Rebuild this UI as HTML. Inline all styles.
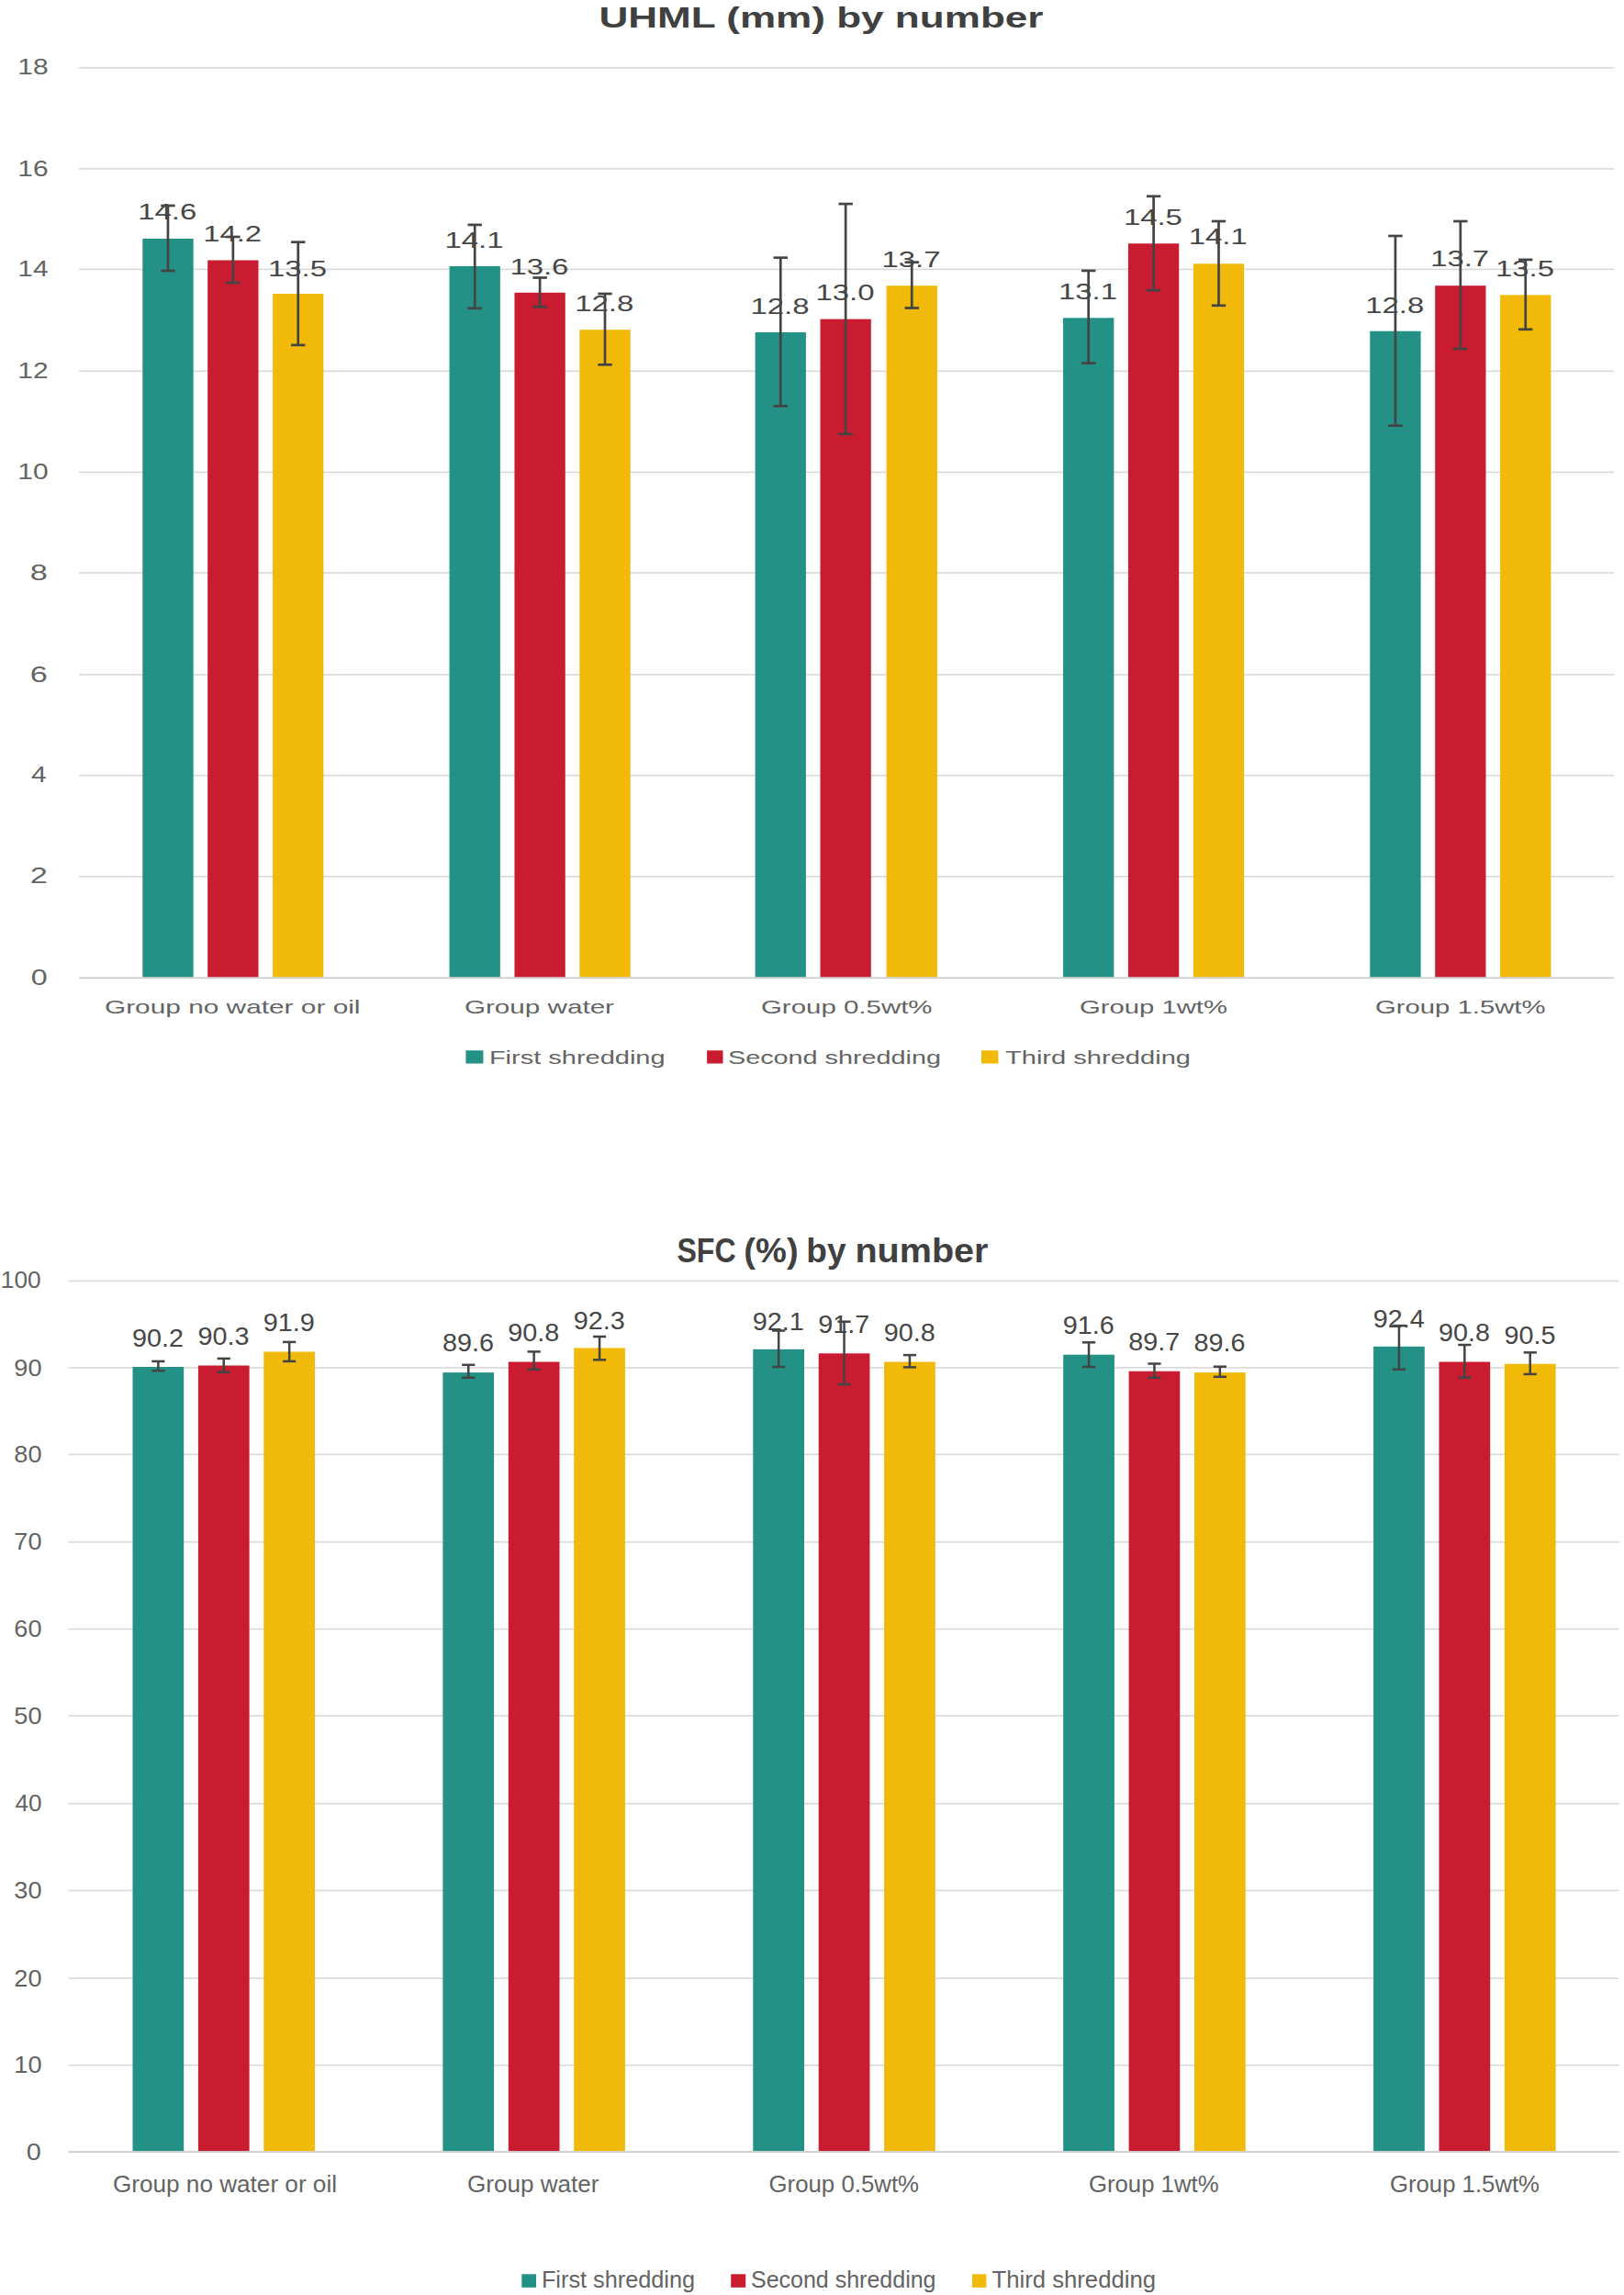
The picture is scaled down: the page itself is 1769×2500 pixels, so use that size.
<!DOCTYPE html>
<html lang="en"><head><meta charset="utf-8"><title>UHML and SFC by number</title>
<style>html,body{margin:0;padding:0;background:#fff}body{width:1769px;height:2500px;overflow:hidden}svg{display:block}text{font-family:"Liberation Sans",sans-serif;white-space:pre}</style></head><body>
<svg width="1769" height="2500" viewBox="0 0 1769 2500">
<rect width="1769" height="2500" fill="#ffffff"/>
<rect x="86.00" y="954.00" width="1672.00" height="1.60" fill="#d9d9d9"/>
<rect x="86.00" y="843.90" width="1672.00" height="1.60" fill="#d9d9d9"/>
<rect x="86.00" y="734.10" width="1672.00" height="1.60" fill="#d9d9d9"/>
<rect x="86.00" y="623.20" width="1672.00" height="1.60" fill="#d9d9d9"/>
<rect x="86.00" y="513.60" width="1672.00" height="1.60" fill="#d9d9d9"/>
<rect x="86.00" y="403.50" width="1672.00" height="1.60" fill="#d9d9d9"/>
<rect x="86.00" y="292.60" width="1672.00" height="1.60" fill="#d9d9d9"/>
<rect x="86.00" y="183.10" width="1672.00" height="1.60" fill="#d9d9d9"/>
<rect x="86.00" y="73.00" width="1672.00" height="1.60" fill="#d9d9d9"/>
<rect x="155.30" y="260.00" width="55.30" height="804.60" fill="#239185"/>
<rect x="226.20" y="283.50" width="55.30" height="781.10" fill="#C91C30"/>
<rect x="297.10" y="320.00" width="55.30" height="744.60" fill="#F2BA08"/>
<rect x="489.55" y="290.00" width="55.30" height="774.60" fill="#239185"/>
<rect x="560.45" y="318.80" width="55.30" height="745.80" fill="#C91C30"/>
<rect x="631.35" y="359.20" width="55.30" height="705.40" fill="#F2BA08"/>
<rect x="822.60" y="362.00" width="55.30" height="702.60" fill="#239185"/>
<rect x="893.50" y="347.60" width="55.30" height="717.00" fill="#C91C30"/>
<rect x="965.60" y="311.20" width="55.30" height="753.40" fill="#F2BA08"/>
<rect x="1158.05" y="346.30" width="55.30" height="718.30" fill="#239185"/>
<rect x="1228.95" y="265.30" width="55.30" height="799.30" fill="#C91C30"/>
<rect x="1299.85" y="287.30" width="55.30" height="777.30" fill="#F2BA08"/>
<rect x="1492.30" y="360.70" width="55.30" height="703.90" fill="#239185"/>
<rect x="1563.20" y="311.20" width="55.30" height="753.40" fill="#C91C30"/>
<rect x="1634.10" y="321.30" width="55.30" height="743.30" fill="#F2BA08"/>
<rect x="86.00" y="1064.40" width="1672.00" height="1.80" fill="#cdcdcd"/>
<rect x="181.60" y="224.00" width="2.70" height="71.00" fill="#444444"/>
<rect x="175.25" y="222.65" width="15.40" height="2.70" fill="#444444"/>
<rect x="175.25" y="293.65" width="15.40" height="2.70" fill="#444444"/>
<rect x="252.50" y="258.00" width="2.70" height="50.00" fill="#444444"/>
<rect x="246.15" y="256.65" width="15.40" height="2.70" fill="#444444"/>
<rect x="246.15" y="306.65" width="15.40" height="2.70" fill="#444444"/>
<rect x="323.40" y="263.70" width="2.70" height="112.20" fill="#444444"/>
<rect x="317.05" y="262.35" width="15.40" height="2.70" fill="#444444"/>
<rect x="317.05" y="374.55" width="15.40" height="2.70" fill="#444444"/>
<rect x="515.85" y="244.90" width="2.70" height="90.90" fill="#444444"/>
<rect x="509.50" y="243.55" width="15.40" height="2.70" fill="#444444"/>
<rect x="509.50" y="334.45" width="15.40" height="2.70" fill="#444444"/>
<rect x="586.75" y="302.50" width="2.70" height="31.80" fill="#444444"/>
<rect x="580.40" y="301.15" width="15.40" height="2.70" fill="#444444"/>
<rect x="580.40" y="332.95" width="15.40" height="2.70" fill="#444444"/>
<rect x="657.65" y="320.00" width="2.70" height="77.30" fill="#444444"/>
<rect x="651.30" y="318.65" width="15.40" height="2.70" fill="#444444"/>
<rect x="651.30" y="395.95" width="15.40" height="2.70" fill="#444444"/>
<rect x="848.90" y="280.70" width="2.70" height="161.60" fill="#444444"/>
<rect x="842.55" y="279.35" width="15.40" height="2.70" fill="#444444"/>
<rect x="842.55" y="440.95" width="15.40" height="2.70" fill="#444444"/>
<rect x="919.80" y="222.10" width="2.70" height="250.70" fill="#444444"/>
<rect x="913.45" y="220.75" width="15.40" height="2.70" fill="#444444"/>
<rect x="913.45" y="471.45" width="15.40" height="2.70" fill="#444444"/>
<rect x="991.90" y="285.70" width="2.70" height="49.80" fill="#444444"/>
<rect x="985.55" y="284.35" width="15.40" height="2.70" fill="#444444"/>
<rect x="985.55" y="334.15" width="15.40" height="2.70" fill="#444444"/>
<rect x="1184.35" y="294.90" width="2.70" height="100.70" fill="#444444"/>
<rect x="1178.00" y="293.55" width="15.40" height="2.70" fill="#444444"/>
<rect x="1178.00" y="394.25" width="15.40" height="2.70" fill="#444444"/>
<rect x="1255.25" y="213.80" width="2.70" height="102.40" fill="#444444"/>
<rect x="1248.90" y="212.45" width="15.40" height="2.70" fill="#444444"/>
<rect x="1248.90" y="314.85" width="15.40" height="2.70" fill="#444444"/>
<rect x="1326.15" y="241.00" width="2.70" height="91.80" fill="#444444"/>
<rect x="1319.80" y="239.65" width="15.40" height="2.70" fill="#444444"/>
<rect x="1319.80" y="331.45" width="15.40" height="2.70" fill="#444444"/>
<rect x="1518.60" y="257.00" width="2.70" height="206.60" fill="#444444"/>
<rect x="1512.25" y="255.65" width="15.40" height="2.70" fill="#444444"/>
<rect x="1512.25" y="462.25" width="15.40" height="2.70" fill="#444444"/>
<rect x="1589.50" y="241.00" width="2.70" height="138.90" fill="#444444"/>
<rect x="1583.15" y="239.65" width="15.40" height="2.70" fill="#444444"/>
<rect x="1583.15" y="378.55" width="15.40" height="2.70" fill="#444444"/>
<rect x="1660.40" y="282.90" width="2.70" height="75.90" fill="#444444"/>
<rect x="1654.05" y="281.55" width="15.40" height="2.70" fill="#444444"/>
<rect x="1654.05" y="357.45" width="15.40" height="2.70" fill="#444444"/>
<rect x="507.40" y="1144.30" width="19.00" height="14.20" fill="#239185"/>
<rect x="770.10" y="1144.30" width="17.40" height="14.20" fill="#C91C30"/>
<rect x="1069.00" y="1144.30" width="18.40" height="14.20" fill="#F2BA08"/>
<rect x="74.40" y="2248.90" width="1689.10" height="1.60" fill="#d9d9d9"/>
<rect x="74.40" y="2154.20" width="1689.10" height="1.60" fill="#d9d9d9"/>
<rect x="74.40" y="2058.60" width="1689.10" height="1.60" fill="#d9d9d9"/>
<rect x="74.40" y="1963.90" width="1689.10" height="1.60" fill="#d9d9d9"/>
<rect x="74.40" y="1868.20" width="1689.10" height="1.60" fill="#d9d9d9"/>
<rect x="74.40" y="1773.80" width="1689.10" height="1.60" fill="#d9d9d9"/>
<rect x="74.40" y="1679.00" width="1689.10" height="1.60" fill="#d9d9d9"/>
<rect x="74.40" y="1583.50" width="1689.10" height="1.60" fill="#d9d9d9"/>
<rect x="74.40" y="1489.10" width="1689.10" height="1.60" fill="#d9d9d9"/>
<rect x="74.40" y="1394.70" width="1689.10" height="1.60" fill="#d9d9d9"/>
<rect x="144.50" y="1489.00" width="55.70" height="854.30" fill="#239185"/>
<rect x="215.90" y="1487.50" width="55.70" height="855.80" fill="#C91C30"/>
<rect x="287.30" y="1472.50" width="55.70" height="870.80" fill="#F2BA08"/>
<rect x="482.40" y="1495.10" width="55.70" height="848.20" fill="#239185"/>
<rect x="553.80" y="1483.50" width="55.70" height="859.80" fill="#C91C30"/>
<rect x="625.20" y="1468.40" width="55.70" height="874.90" fill="#F2BA08"/>
<rect x="820.30" y="1469.80" width="55.70" height="873.50" fill="#239185"/>
<rect x="891.70" y="1474.30" width="55.70" height="869.00" fill="#C91C30"/>
<rect x="963.10" y="1483.50" width="55.70" height="859.80" fill="#F2BA08"/>
<rect x="1158.20" y="1475.70" width="55.70" height="867.60" fill="#239185"/>
<rect x="1229.60" y="1493.70" width="55.70" height="849.60" fill="#C91C30"/>
<rect x="1301.00" y="1495.10" width="55.70" height="848.20" fill="#F2BA08"/>
<rect x="1496.10" y="1466.80" width="55.70" height="876.50" fill="#239185"/>
<rect x="1567.50" y="1483.50" width="55.70" height="859.80" fill="#C91C30"/>
<rect x="1638.90" y="1485.70" width="55.70" height="857.60" fill="#F2BA08"/>
<rect x="74.40" y="2343.20" width="1689.10" height="1.80" fill="#cdcdcd"/>
<rect x="171.10" y="1482.90" width="2.50" height="10.30" fill="#444444"/>
<rect x="165.25" y="1481.65" width="14.20" height="2.50" fill="#444444"/>
<rect x="165.25" y="1491.95" width="14.20" height="2.50" fill="#444444"/>
<rect x="242.50" y="1479.90" width="2.50" height="14.80" fill="#444444"/>
<rect x="236.65" y="1478.65" width="14.20" height="2.50" fill="#444444"/>
<rect x="236.65" y="1493.45" width="14.20" height="2.50" fill="#444444"/>
<rect x="313.90" y="1461.90" width="2.50" height="21.00" fill="#444444"/>
<rect x="308.05" y="1460.65" width="14.20" height="2.50" fill="#444444"/>
<rect x="308.05" y="1481.65" width="14.20" height="2.50" fill="#444444"/>
<rect x="509.00" y="1486.80" width="2.50" height="13.90" fill="#444444"/>
<rect x="503.15" y="1485.55" width="14.20" height="2.50" fill="#444444"/>
<rect x="503.15" y="1499.45" width="14.20" height="2.50" fill="#444444"/>
<rect x="580.40" y="1472.40" width="2.50" height="19.40" fill="#444444"/>
<rect x="574.55" y="1471.15" width="14.20" height="2.50" fill="#444444"/>
<rect x="574.55" y="1490.55" width="14.20" height="2.50" fill="#444444"/>
<rect x="651.80" y="1456.00" width="2.50" height="25.30" fill="#444444"/>
<rect x="645.95" y="1454.75" width="14.20" height="2.50" fill="#444444"/>
<rect x="645.95" y="1480.05" width="14.20" height="2.50" fill="#444444"/>
<rect x="846.90" y="1449.50" width="2.50" height="39.50" fill="#444444"/>
<rect x="841.05" y="1448.25" width="14.20" height="2.50" fill="#444444"/>
<rect x="841.05" y="1487.75" width="14.20" height="2.50" fill="#444444"/>
<rect x="918.30" y="1439.70" width="2.50" height="68.30" fill="#444444"/>
<rect x="912.45" y="1438.45" width="14.20" height="2.50" fill="#444444"/>
<rect x="912.45" y="1506.75" width="14.20" height="2.50" fill="#444444"/>
<rect x="989.70" y="1476.10" width="2.50" height="13.30" fill="#444444"/>
<rect x="983.85" y="1474.85" width="14.20" height="2.50" fill="#444444"/>
<rect x="983.85" y="1488.15" width="14.20" height="2.50" fill="#444444"/>
<rect x="1184.80" y="1462.30" width="2.50" height="26.70" fill="#444444"/>
<rect x="1178.95" y="1461.05" width="14.20" height="2.50" fill="#444444"/>
<rect x="1178.95" y="1487.75" width="14.20" height="2.50" fill="#444444"/>
<rect x="1256.20" y="1485.50" width="2.50" height="15.20" fill="#444444"/>
<rect x="1250.35" y="1484.25" width="14.20" height="2.50" fill="#444444"/>
<rect x="1250.35" y="1499.45" width="14.20" height="2.50" fill="#444444"/>
<rect x="1327.60" y="1488.70" width="2.50" height="11.10" fill="#444444"/>
<rect x="1321.75" y="1487.45" width="14.20" height="2.50" fill="#444444"/>
<rect x="1321.75" y="1498.55" width="14.20" height="2.50" fill="#444444"/>
<rect x="1522.70" y="1444.10" width="2.50" height="47.70" fill="#444444"/>
<rect x="1516.85" y="1442.85" width="14.20" height="2.50" fill="#444444"/>
<rect x="1516.85" y="1490.55" width="14.20" height="2.50" fill="#444444"/>
<rect x="1594.10" y="1465.00" width="2.50" height="35.60" fill="#444444"/>
<rect x="1588.25" y="1463.75" width="14.20" height="2.50" fill="#444444"/>
<rect x="1588.25" y="1499.35" width="14.20" height="2.50" fill="#444444"/>
<rect x="1665.50" y="1473.30" width="2.50" height="23.60" fill="#444444"/>
<rect x="1659.65" y="1472.05" width="14.20" height="2.50" fill="#444444"/>
<rect x="1659.65" y="1495.65" width="14.20" height="2.50" fill="#444444"/>
<rect x="568.30" y="2477.30" width="15.70" height="14.50" fill="#239185"/>
<rect x="796.20" y="2477.30" width="16.00" height="14.50" fill="#C91C30"/>
<rect x="1059.00" y="2477.30" width="15.40" height="14.50" fill="#F2BA08"/>
<text y="1072.80" font-size="23.4" fill="#636363"><tspan x="33.74" textLength="17.92" lengthAdjust="spacingAndGlyphs">0</tspan></text>
<text y="962.40" font-size="23.4" fill="#636363"><tspan x="32.65" textLength="19.12" lengthAdjust="spacingAndGlyphs">2</tspan></text>
<text y="852.30" font-size="23.4" fill="#636363"><tspan x="33.93" textLength="16.71" lengthAdjust="spacingAndGlyphs">4</tspan></text>
<text y="742.50" font-size="23.4" fill="#636363"><tspan x="32.65" textLength="19.12" lengthAdjust="spacingAndGlyphs">6</tspan></text>
<text y="631.60" font-size="23.4" fill="#636363"><tspan x="32.65" textLength="19.12" lengthAdjust="spacingAndGlyphs">8</tspan></text>
<text y="522.00" font-size="23.4" fill="#636363"><tspan x="19.32" textLength="33.35" lengthAdjust="spacingAndGlyphs">10</tspan></text>
<text y="411.90" font-size="23.4" fill="#636363"><tspan x="19.32" textLength="33.35" lengthAdjust="spacingAndGlyphs">12</tspan></text>
<text y="301.00" font-size="23.4" fill="#636363"><tspan x="19.31" textLength="33.27" lengthAdjust="spacingAndGlyphs">14</tspan></text>
<text y="191.50" font-size="23.4" fill="#636363"><tspan x="19.32" textLength="33.35" lengthAdjust="spacingAndGlyphs">16</tspan></text>
<text y="81.40" font-size="23.4" fill="#636363"><tspan x="19.32" textLength="33.35" lengthAdjust="spacingAndGlyphs">18</tspan></text>
<text y="239.30" font-size="23.8" fill="#464646"><tspan x="182.25" text-anchor="middle" textLength="64.00" lengthAdjust="spacingAndGlyphs">14.6</tspan></text>
<text y="263.30" font-size="23.8" fill="#464646"><tspan x="253.15" text-anchor="middle" textLength="64.00" lengthAdjust="spacingAndGlyphs">14.2</tspan></text>
<text y="301.10" font-size="23.8" fill="#464646"><tspan x="324.05" text-anchor="middle" textLength="64.00" lengthAdjust="spacingAndGlyphs">13.5</tspan></text>
<text y="270.20" font-size="23.8" fill="#464646"><tspan x="516.50" text-anchor="middle" textLength="64.00" lengthAdjust="spacingAndGlyphs">14.1</tspan></text>
<text y="298.80" font-size="23.8" fill="#464646"><tspan x="587.40" text-anchor="middle" textLength="64.00" lengthAdjust="spacingAndGlyphs">13.6</tspan></text>
<text y="339.10" font-size="23.8" fill="#464646"><tspan x="658.30" text-anchor="middle" textLength="64.00" lengthAdjust="spacingAndGlyphs">12.8</tspan></text>
<text y="342.20" font-size="23.8" fill="#464646"><tspan x="849.55" text-anchor="middle" textLength="64.00" lengthAdjust="spacingAndGlyphs">12.8</tspan></text>
<text y="327.40" font-size="23.8" fill="#464646"><tspan x="920.45" text-anchor="middle" textLength="64.00" lengthAdjust="spacingAndGlyphs">13.0</tspan></text>
<text y="291.00" font-size="23.8" fill="#464646"><tspan x="992.55" text-anchor="middle" textLength="64.00" lengthAdjust="spacingAndGlyphs">13.7</tspan></text>
<text y="325.60" font-size="23.8" fill="#464646"><tspan x="1185.00" text-anchor="middle" textLength="64.00" lengthAdjust="spacingAndGlyphs">13.1</tspan></text>
<text y="244.60" font-size="23.8" fill="#464646"><tspan x="1255.90" text-anchor="middle" textLength="64.00" lengthAdjust="spacingAndGlyphs">14.5</tspan></text>
<text y="266.40" font-size="23.8" fill="#464646"><tspan x="1326.80" text-anchor="middle" textLength="64.00" lengthAdjust="spacingAndGlyphs">14.1</tspan></text>
<text y="340.90" font-size="23.8" fill="#464646"><tspan x="1519.25" text-anchor="middle" textLength="64.00" lengthAdjust="spacingAndGlyphs">12.8</tspan></text>
<text y="290.40" font-size="23.8" fill="#464646"><tspan x="1590.15" text-anchor="middle" textLength="64.00" lengthAdjust="spacingAndGlyphs">13.7</tspan></text>
<text y="301.00" font-size="23.8" fill="#464646"><tspan x="1661.05" text-anchor="middle" textLength="64.00" lengthAdjust="spacingAndGlyphs">13.5</tspan></text>
<text y="1103.60" font-size="21.0" fill="#636363"><tspan x="113.98" textLength="278.54" lengthAdjust="spacingAndGlyphs">Group no water or oil</tspan></text>
<text y="1103.60" font-size="21.0" fill="#636363"><tspan x="505.98" textLength="163.03" lengthAdjust="spacingAndGlyphs">Group water</tspan></text>
<text y="1103.60" font-size="21.0" fill="#636363"><tspan x="828.97" textLength="186.54" lengthAdjust="spacingAndGlyphs">Group 0.5wt%</tspan></text>
<text y="1103.60" font-size="21.0" fill="#636363"><tspan x="1175.97" textLength="161.06" lengthAdjust="spacingAndGlyphs">Group 1wt%</tspan></text>
<text y="1103.60" font-size="21.0" fill="#636363"><tspan x="1497.98" textLength="185.53" lengthAdjust="spacingAndGlyphs">Group 1.5wt%</tspan></text>
<text y="1158.80" font-size="21.0" fill="#636363"><tspan x="532.93" textLength="191.63" lengthAdjust="spacingAndGlyphs">First shredding</tspan></text>
<text y="1158.80" font-size="21.0" fill="#636363"><tspan x="792.96" textLength="232.08" lengthAdjust="spacingAndGlyphs">Second shredding</tspan></text>
<text y="1158.80" font-size="21.0" fill="#636363"><tspan x="1094.99" textLength="202.02" lengthAdjust="spacingAndGlyphs">Third shredding</tspan></text>
<text y="29.50" font-size="31.0" font-weight="bold" fill="#404040"><tspan x="652.48" textLength="484.02" lengthAdjust="spacingAndGlyphs">UHML (mm) by number</tspan></text>
<text y="2353.00" font-size="26.4" fill="#636363"><tspan x="28.72" textLength="16.08" lengthAdjust="spacingAndGlyphs">0</tspan></text>
<text y="2258.30" font-size="26.4" fill="#636363"><tspan x="15.25" textLength="30.30" lengthAdjust="spacingAndGlyphs">10</tspan></text>
<text y="2163.60" font-size="26.4" fill="#636363"><tspan x="15.39" textLength="30.18" lengthAdjust="spacingAndGlyphs">20</tspan></text>
<text y="2068.00" font-size="26.4" fill="#636363"><tspan x="15.39" textLength="30.18" lengthAdjust="spacingAndGlyphs">30</tspan></text>
<text y="1973.30" font-size="26.4" fill="#636363"><tspan x="16.43" textLength="29.10" lengthAdjust="spacingAndGlyphs">40</tspan></text>
<text y="1877.60" font-size="26.4" fill="#636363"><tspan x="15.39" textLength="30.18" lengthAdjust="spacingAndGlyphs">50</tspan></text>
<text y="1783.20" font-size="26.4" fill="#636363"><tspan x="15.39" textLength="30.18" lengthAdjust="spacingAndGlyphs">60</tspan></text>
<text y="1688.40" font-size="26.4" fill="#636363"><tspan x="15.39" textLength="30.18" lengthAdjust="spacingAndGlyphs">70</tspan></text>
<text y="1592.90" font-size="26.4" fill="#636363"><tspan x="15.39" textLength="30.18" lengthAdjust="spacingAndGlyphs">80</tspan></text>
<text y="1498.50" font-size="26.4" fill="#636363"><tspan x="15.39" textLength="30.18" lengthAdjust="spacingAndGlyphs">90</tspan></text>
<text y="1403.30" font-size="26.4" fill="#636363"><tspan x="0.82" textLength="43.81" lengthAdjust="spacingAndGlyphs">100</tspan></text>
<text y="1466.60" font-size="27.3" fill="#464646"><tspan x="172.05" text-anchor="middle" textLength="56.00" lengthAdjust="spacingAndGlyphs">90.2</tspan></text>
<text y="1465.40" font-size="27.3" fill="#464646"><tspan x="243.45" text-anchor="middle" textLength="56.00" lengthAdjust="spacingAndGlyphs">90.3</tspan></text>
<text y="1450.10" font-size="27.3" fill="#464646"><tspan x="314.85" text-anchor="middle" textLength="56.00" lengthAdjust="spacingAndGlyphs">91.9</tspan></text>
<text y="1472.20" font-size="27.3" fill="#464646"><tspan x="509.95" text-anchor="middle" textLength="56.00" lengthAdjust="spacingAndGlyphs">89.6</tspan></text>
<text y="1460.50" font-size="27.3" fill="#464646"><tspan x="581.35" text-anchor="middle" textLength="56.00" lengthAdjust="spacingAndGlyphs">90.8</tspan></text>
<text y="1447.60" font-size="27.3" fill="#464646"><tspan x="652.75" text-anchor="middle" textLength="56.00" lengthAdjust="spacingAndGlyphs">92.3</tspan></text>
<text y="1448.90" font-size="27.3" fill="#464646"><tspan x="847.85" text-anchor="middle" textLength="56.00" lengthAdjust="spacingAndGlyphs">92.1</tspan></text>
<text y="1451.90" font-size="27.3" fill="#464646"><tspan x="919.25" text-anchor="middle" textLength="56.00" lengthAdjust="spacingAndGlyphs">91.7</tspan></text>
<text y="1461.10" font-size="27.3" fill="#464646"><tspan x="990.65" text-anchor="middle" textLength="56.00" lengthAdjust="spacingAndGlyphs">90.8</tspan></text>
<text y="1453.20" font-size="27.3" fill="#464646"><tspan x="1185.75" text-anchor="middle" textLength="56.00" lengthAdjust="spacingAndGlyphs">91.6</tspan></text>
<text y="1471.30" font-size="27.3" fill="#464646"><tspan x="1257.15" text-anchor="middle" textLength="56.00" lengthAdjust="spacingAndGlyphs">89.7</tspan></text>
<text y="1472.20" font-size="27.3" fill="#464646"><tspan x="1328.55" text-anchor="middle" textLength="56.00" lengthAdjust="spacingAndGlyphs">89.6</tspan></text>
<text y="1446.10" font-size="27.3" fill="#464646"><tspan x="1523.65" text-anchor="middle" textLength="56.00" lengthAdjust="spacingAndGlyphs">92.4</tspan></text>
<text y="1460.90" font-size="27.3" fill="#464646"><tspan x="1595.05" text-anchor="middle" textLength="56.00" lengthAdjust="spacingAndGlyphs">90.8</tspan></text>
<text y="1463.60" font-size="27.3" fill="#464646"><tspan x="1666.45" text-anchor="middle" textLength="56.00" lengthAdjust="spacingAndGlyphs">90.5</tspan></text>
<text y="2388.20" font-size="25.0" fill="#636363"><tspan x="122.98" textLength="244.06" lengthAdjust="spacingAndGlyphs">Group no water or oil</tspan></text>
<text y="2388.20" font-size="25.0" fill="#636363"><tspan x="508.98" textLength="143.53" lengthAdjust="spacingAndGlyphs">Group water</tspan></text>
<text y="2388.20" font-size="25.0" fill="#636363"><tspan x="837.49" textLength="163.53" lengthAdjust="spacingAndGlyphs">Group 0.5wt%</tspan></text>
<text y="2388.20" font-size="25.0" fill="#636363"><tspan x="1185.97" textLength="141.54" lengthAdjust="spacingAndGlyphs">Group 1wt%</tspan></text>
<text y="2388.20" font-size="25.0" fill="#636363"><tspan x="1513.97" textLength="163.04" lengthAdjust="spacingAndGlyphs">Group 1.5wt%</tspan></text>
<text y="2492.20" font-size="25.2" fill="#636363"><tspan x="589.95" textLength="167.08" lengthAdjust="spacingAndGlyphs">First shredding</tspan></text>
<text y="2492.20" font-size="25.2" fill="#636363"><tspan x="817.98" textLength="201.54" lengthAdjust="spacingAndGlyphs">Second shredding</tspan></text>
<text y="2492.20" font-size="25.2" fill="#636363"><tspan x="1080.49" textLength="178.54" lengthAdjust="spacingAndGlyphs">Third shredding</tspan></text>
<text y="1374.50" font-size="37.2" font-weight="bold" fill="#404040"><tspan x="737.44" textLength="64.13" lengthAdjust="spacingAndGlyphs">SFC</tspan> <tspan x="810.38" textLength="59.24" lengthAdjust="spacingAndGlyphs">(%)</tspan> <tspan x="878.33" textLength="43.24" lengthAdjust="spacingAndGlyphs">by</tspan> <tspan x="931.42" textLength="145.09" lengthAdjust="spacingAndGlyphs">number</tspan></text>
</svg></body></html>
